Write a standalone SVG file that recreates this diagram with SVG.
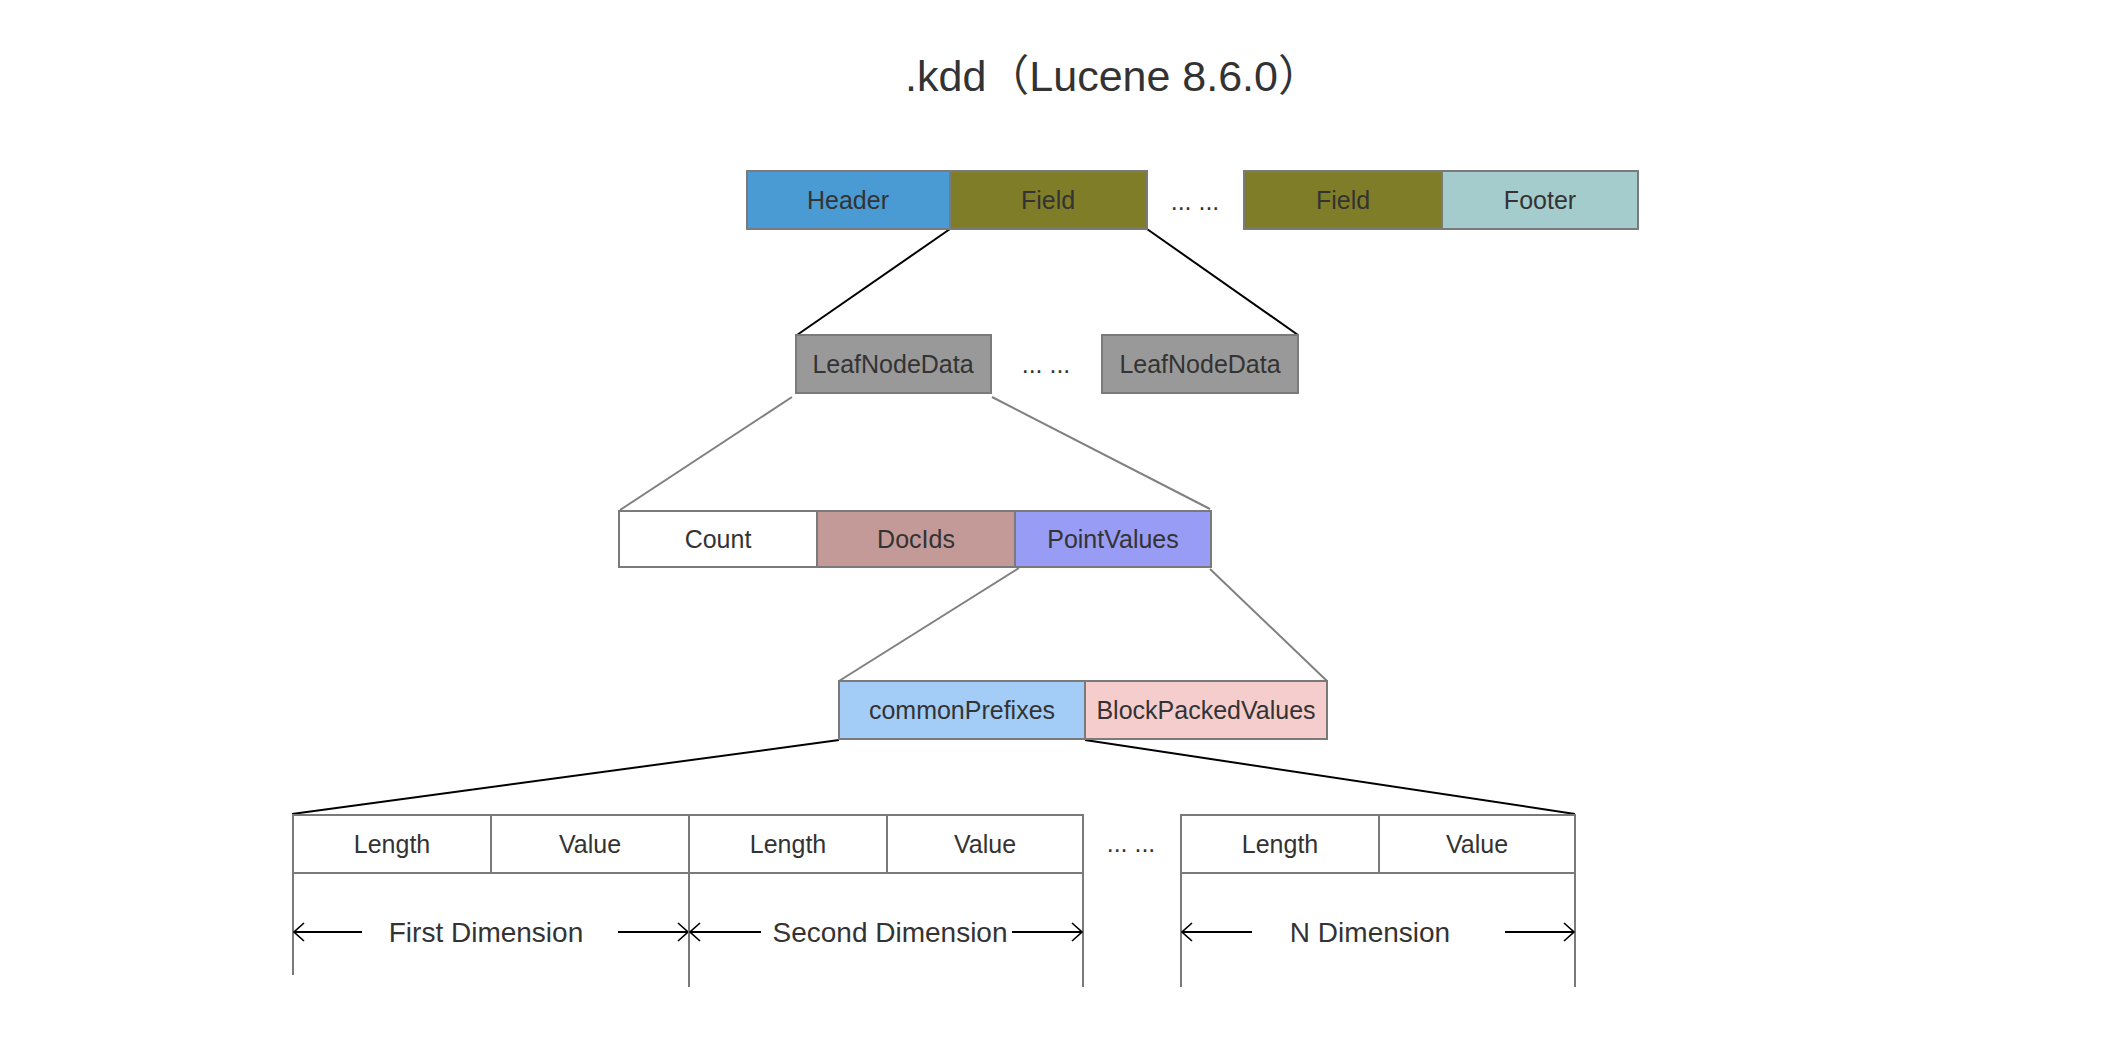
<svg xmlns="http://www.w3.org/2000/svg" width="2102" height="1050" viewBox="0 0 2102 1050">
<style>
.box{stroke:#7a7a7a;stroke-width:2}
.lbl{font-family:"Liberation Sans","Noto Sans CJK SC",sans-serif;font-size:25px;fill:#333;text-anchor:middle}
.dim{font-family:"Liberation Sans","Noto Sans CJK SC",sans-serif;font-size:28px;fill:#333;text-anchor:middle}
.title{font-family:"Liberation Sans","Noto Sans CJK SC",sans-serif;font-size:43px;fill:#333;text-anchor:middle}
.blk{stroke:#000;stroke-width:2;fill:none}
.gry{stroke:#808080;stroke-width:2;fill:none}
.tbl{stroke:#7a7a7a;stroke-width:2;fill:none}
.arr{stroke:#000;stroke-width:2;fill:none;marker-end:url(#ah)}
</style>
<defs>
<marker id="ah" markerUnits="userSpaceOnUse" viewBox="0 0 12 20" refX="11" refY="10" markerWidth="12" markerHeight="20" orient="auto">
<path d="M1,1 L11,10 L1,19" stroke="#000" stroke-width="1.6" fill="none"/>
</marker>
</defs>
<rect width="2102" height="1050" fill="#fff"/>
<text class="title" x="1113" y="91">.kdd（Lucene 8.6.0）</text>

<g id="connectors">
<line class="blk" x1="950" y1="229" x2="797" y2="335"/>
<line class="blk" x1="1147" y1="229" x2="1298" y2="335"/>
<line class="gry" x1="792" y1="397" x2="620" y2="510"/>
<line class="gry" x1="992" y1="397" x2="1210" y2="509"/>
<line class="gry" x1="1019" y1="568" x2="839" y2="681"/>
<line class="gry" x1="1210" y1="569" x2="1327" y2="681"/>
<line class="blk" x1="839" y1="740" x2="292" y2="814"/>
<line class="blk" x1="1085" y1="740" x2="1575" y2="814"/>
</g>

<g id="header"><rect class="box" x="747" y="171" width="203" height="58" fill="#4A9BD4"/><text class="lbl" x="848" y="209">Header</text></g>
<g id="field1"><rect class="box" x="950" y="171" width="197" height="58" fill="#807D28"/><text class="lbl" x="1048" y="209">Field</text></g>
<text class="lbl" x="1195" y="210">... ...</text>
<g id="field2"><rect class="box" x="1244" y="171" width="198" height="58" fill="#807D28"/><text class="lbl" x="1343" y="209">Field</text></g>
<g id="footer"><rect class="box" x="1442" y="171" width="196" height="58" fill="#A4CCCC"/><text class="lbl" x="1540" y="209">Footer</text></g>

<g id="leaf1"><rect class="box" x="796" y="335" width="195" height="58" fill="#999999"/><text class="lbl" x="893" y="373">LeafNodeData</text></g>
<text class="lbl" x="1046" y="373">... ...</text>
<g id="leaf2"><rect class="box" x="1102" y="335" width="196" height="58" fill="#999999"/><text class="lbl" x="1200" y="373">LeafNodeData</text></g>

<g id="count"><rect class="box" x="619" y="511" width="198" height="56" fill="#ffffff"/><text class="lbl" x="718" y="548">Count</text></g>
<g id="docids"><rect class="box" x="817" y="511" width="198" height="56" fill="#C49A98"/><text class="lbl" x="916" y="548">DocIds</text></g>
<g id="pointvalues"><rect class="box" x="1015" y="511" width="196" height="56" fill="#989CF4"/><text class="lbl" x="1113" y="548">PointValues</text></g>

<g id="commonPrefixes"><rect class="box" x="839" y="681" width="246" height="58" fill="#A3CDF7"/><text class="lbl" x="962" y="719">commonPrefixes</text></g>
<g id="blockPacked"><rect class="box" x="1085" y="681" width="242" height="58" fill="#F5CDCD"/><text class="lbl" x="1206" y="719">BlockPackedValues</text></g>

<g id="dim1">
<path class="tbl" d="M293,975 V815 H689 M293,873 H689 M491,815 V873"/>
<text class="lbl" x="392" y="853">Length</text>
<text class="lbl" x="590" y="853">Value</text>
<line class="arr" x1="362" y1="932" x2="294" y2="932"/>
<line class="arr" x1="618" y1="932" x2="688" y2="932"/>
<text class="dim" x="486" y="942">First Dimension</text>
</g>
<g id="dim2">
<path class="tbl" d="M689,987 V815 H1083 V987 M689,873 H1083 M887,815 V873"/>
<text class="lbl" x="788" y="853">Length</text>
<text class="lbl" x="985" y="853">Value</text>
<line class="arr" x1="761" y1="932" x2="690" y2="932"/>
<line class="arr" x1="1012" y1="932" x2="1082" y2="932"/>
<text class="dim" x="890" y="942">Second Dimension</text>
</g>
<text class="lbl" x="1131" y="852">... ...</text>
<g id="dimN">
<path class="tbl" d="M1181,987 V815 H1575 V987 M1181,873 H1575 M1379,815 V873"/>
<text class="lbl" x="1280" y="853">Length</text>
<text class="lbl" x="1477" y="853">Value</text>
<line class="arr" x1="1252" y1="932" x2="1182" y2="932"/>
<line class="arr" x1="1505" y1="932" x2="1574" y2="932"/>
<text class="dim" x="1370" y="942">N Dimension</text>
</g>
</svg>
